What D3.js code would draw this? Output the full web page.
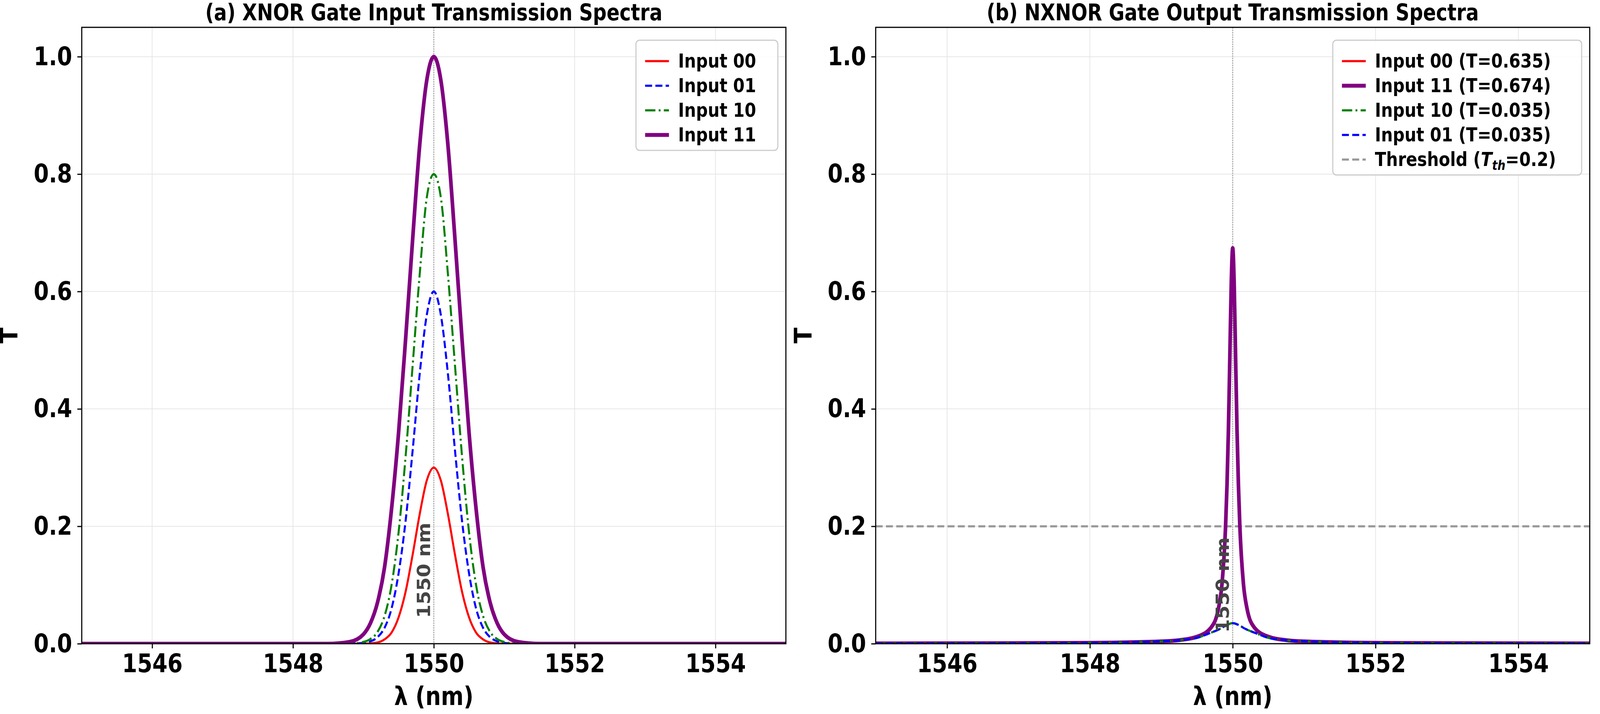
<!DOCTYPE html>
<html><head><meta charset="utf-8">
<script src="https://cdn.jsdelivr.net/npm/d3@7"></script>
<style>html,body{margin:0;padding:0;background:#fff;overflow:hidden}svg{display:block}text{font-family:"DejaVu Sans Condensed","DejaVu Sans";font-weight:bold}</style>
</head><body><svg id="c" viewBox="0 0 4365 1828" preserveAspectRatio="none" style="width:100vw;height:100vh"></svg>
<script>
// ---- data ----
const lambdaA = [1545,1548.5,1548.8,1549,1549.1,1549.2,1549.3,1549.4,1549.5,1549.6,1549.7,1549.8,1549.9,1550,1550.1,1550.2,1550.3,1550.4,1550.5,1550.6,1550.7,1550.8,1550.9,1551,1551.2,1551.5,1555];
const a00 = [0,0,0,0,0.0005,0.002,0.0073,0.019,0.045,0.089,0.152,0.221,0.278,0.3,0.278,0.221,0.152,0.089,0.045,0.019,0.0073,0.002,0.0005,0,0,0,0];
const a01 = [0,0,0,0.0013,0.004,0.011,0.027,0.06,0.12,0.21,0.33,0.46,0.56,0.6,0.56,0.46,0.33,0.21,0.12,0.06,0.027,0.011,0.004,0.0013,0,0,0];
const a10 = [0,0,0,0.003,0.008,0.02,0.047,0.1,0.19,0.32,0.475,0.63,0.76,0.8,0.76,0.63,0.475,0.32,0.19,0.1,0.047,0.02,0.008,0.003,0,0,0];
const a11 = [0,0,0.003,0.016,0.035,0.07,0.13,0.23,0.36,0.52,0.69,0.85,0.96,1,0.96,0.85,0.69,0.52,0.36,0.23,0.13,0.07,0.035,0.016,0.003,0,0];

const lambdaB = [1545,1547,1548,1549,1549.25,1549.5,1549.7,1549.8,1549.85,1549.9,1549.92,1549.94,1549.96,1549.98,1550,1550.02,1550.04,1550.06,1550.08,1550.1,1550.15,1550.2,1550.3,1550.5,1550.75,1551,1552,1553,1555];
const b00 = [0.0004,0.0008,0.0012,0.0035,0.0055,0.011,0.026,0.056,0.096,0.19,0.255,0.345,0.46,0.58,0.635,0.58,0.46,0.345,0.255,0.19,0.096,0.056,0.026,0.011,0.0055,0.0035,0.0012,0.0008,0.0004];
const b11 = [0.0005,0.001,0.0015,0.004,0.006,0.012,0.028,0.06,0.102,0.2,0.27,0.365,0.49,0.616,0.674,0.616,0.49,0.365,0.27,0.2,0.102,0.06,0.028,0.012,0.006,0.004,0.0015,0.001,0.0005];
const b10 = [0.0004,0.0008,0.0015,0.004,0.006,0.01,0.019,0.024,0.027,0.031,0.032,0.033,0.034,0.0348,0.035,0.0348,0.034,0.033,0.032,0.031,0.027,0.024,0.019,0.01,0.006,0.004,0.0015,0.0008,0.0004];
const b01 = b10.slice();
const threshold = 0.2;
const xTicks = [1546,1548,1550,1552,1554];
const yTicks = [0,0.2,0.4,0.6,0.8,1.0];

const svg = d3.select("#c");
function panel(x0,x1,title,series,legend,extra){
  const top=70,bottom=1648;
  const x=d3.scaleLinear().domain([1545,1555]).range([x0,x1]);
  const y=d3.scaleLinear().domain([0,1.05]).range([bottom,top]);
  const g=svg.append("g");
  g.selectAll(".gx").data(xTicks).join("line").attr("x1",d=>x(d)).attr("x2",d=>x(d)).attr("y1",top).attr("y2",bottom).attr("stroke","#e6e6e6").attr("stroke-width",2);
  g.selectAll(".gy").data(yTicks).join("line").attr("x1",x0).attr("x2",x1).attr("y1",d=>y(d)).attr("y2",d=>y(d)).attr("stroke","#e6e6e6").attr("stroke-width",2);
  const ax=g.append("g").attr("transform",`translate(0,${bottom})`).call(d3.axisBottom(x).tickValues(xTicks).tickFormat(d3.format("d")).tickSize(12).tickPadding(14));
  const ay=g.append("g").attr("transform",`translate(${x0},0)`).call(d3.axisLeft(y).tickValues(yTicks).tickFormat(d3.format(".1f")).tickSize(12).tickPadding(14));
  [ax,ay].forEach(a=>{a.select(".domain").remove();a.selectAll("line").attr("stroke","#000").attr("stroke-width",3);a.selectAll("text").attr("font-size",66).attr("fill","#000").style("font-family","'DejaVu Sans Condensed'").style("font-weight","bold");});
  g.append("line").attr("x1",x(1550)).attr("x2",x(1550)).attr("y1",top).attr("y2",bottom).attr("stroke","#888").attr("stroke-width",2).attr("stroke-dasharray","3,3");
  const clip="clip"+x0;
  g.append("clipPath").attr("id",clip).append("rect").attr("x",x0).attr("y",top).attr("width",x1-x0).attr("height",bottom-top);
  const cg=g.append("g").attr("clip-path",`url(#${clip})`);
  if(extra) extra(cg,x,y);
  series.forEach(s=>{
    const line=d3.line().x((d,i)=>x(s.lam[i])).y(d=>y(d)).curve(d3.curveMonotoneX);
    cg.append("path").attr("d",line(s.v)).attr("fill","none").attr("stroke",s.c).attr("stroke-width",s.w).attr("stroke-dasharray",s.dash||null);
  });
  g.append("text").attr("transform",`translate(${x(1550)-10},${extra?y(0.1):y(0.125)}) rotate(-90)`).attr("text-anchor","middle").attr("font-size",50).attr("fill","#444").style("font-family","'DejaVu Sans'").text("1550 nm");
  g.append("rect").attr("x",x0).attr("y",top).attr("width",x1-x0).attr("height",bottom-top).attr("fill","none").attr("stroke","#000").attr("stroke-width",3);
  g.append("text").attr("x",(x0+x1)/2).attr("y",top-18).attr("text-anchor","middle").attr("font-size",58).text(title);
  g.append("text").attr("x",(x0+x1)/2).attr("y",1805).attr("text-anchor","middle").attr("font-size",66).text("λ (nm)");
  g.append("text").attr("transform",`translate(${x0-175},${(top+bottom)/2}) rotate(-90)`).attr("text-anchor","middle").attr("font-size",66).text("T");
  const lw=legend.w, lx=x1-lw-22, ly=103, rh=63;
  g.append("rect").attr("x",lx).attr("y",ly).attr("width",lw).attr("height",legend.items.length*rh+30).attr("rx",10).attr("fill","#fff").attr("fill-opacity",0.85).attr("stroke","#ccc").attr("stroke-width",3);
  legend.items.forEach((it,i)=>{
    const yy=ly+22+rh*i+rh/2;
    g.append("line").attr("x1",lx+25).attr("x2",lx+90).attr("y1",yy).attr("y2",yy).attr("stroke",it.c).attr("stroke-width",it.w).attr("stroke-dasharray",it.dash||null);
    const t=g.append("text").attr("x",lx+115).attr("y",yy+17).attr("font-size",50);
    if(it.html){it.html(t);} else t.text(it.label);
  });
}
const red={c:"#ff0000",w:5.5},blue={c:"#0000ff",w:5.5,dash:"19,9"},green={c:"#008000",w:5.5,dash:"28,9,5,9"},purple={c:"#800080",w:10};
panel(223,2144,"(a) XNOR Gate Input Transmission Spectra",[
  {...red,lam:lambdaA,v:a00},{...blue,lam:lambdaA,v:a01},{...green,lam:lambdaA,v:a10},{...purple,lam:lambdaA,v:a11}],
  {w:387,items:[{...red,label:"Input 00"},{...blue,label:"Input 01"},{...green,label:"Input 10"},{...purple,label:"Input 11"}]});
panel(2389,4337,"(b) NXNOR Gate Output Transmission Spectra",[
  {...red,lam:lambdaB,v:b00},{...purple,lam:lambdaB,v:b11},{...green,lam:lambdaB,v:b10},{...blue,lam:lambdaB,v:b01}],
  {w:679,items:[{...red,label:"Input 00 (T=0.635)"},{...purple,label:"Input 11 (T=0.674)"},{...green,label:"Input 10 (T=0.035)"},{...blue,label:"Input 01 (T=0.035)"},
   {c:"#999",w:5.5,dash:"19,9",html:t=>{t.append("tspan").text("Threshold (");t.append("tspan").attr("font-style","italic").text("T");t.append("tspan").attr("font-style","italic").attr("font-size",34).attr("dy",10).text("th");t.append("tspan").attr("dy",-10).text("=0.2)");}}]},
  (cg,x,y)=>{cg.append("line").attr("x1",x(1545)).attr("x2",x(1555)).attr("y1",y(threshold)).attr("y2",y(threshold)).attr("stroke","#999").attr("stroke-width",5.5).attr("stroke-dasharray","19,9");});
</script></body></html>
